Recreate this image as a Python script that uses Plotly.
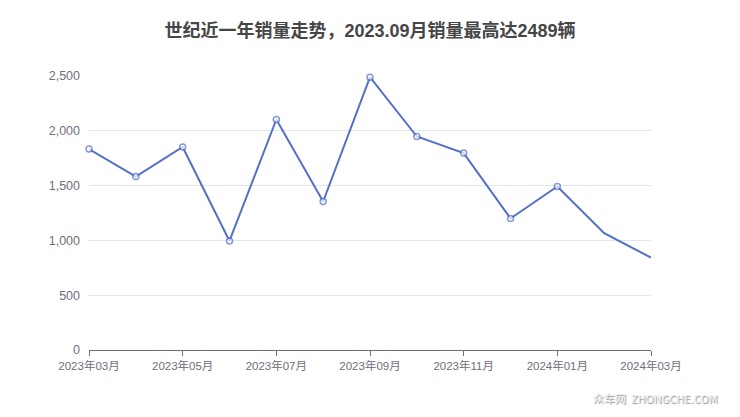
import plotly.graph_objects as go

months = ["2023年03月", "2023年04月", "2023年05月", "2023年06月", "2023年07月", "2023年08月",
          "2023年09月", "2023年10月", "2023年11月", "2023年12月", "2024年01月", "2024年02月", "2024年03月"]
sales = [1834, 1583, 1852, 995, 2103, 1355, 2489, 1948, 1797, 1200, 1492, 1066, 843]
tick_labels = ["2023年03月", "2023年05月", "2023年07月", "2023年09月", "2023年11月", "2024年01月", "2024年03月"]
y_ticks = [0, 500, 1000, 1500, 2000, 2500]

marker_sizes = [6] * (len(sales) - 2) + [0, 0]

# page body has an 8px margin, so shift the figure's inner layout back by 8px
OFF = 8
W, H = 740, 417
L, R, T, B = 89, 651, 76, 350

fig = go.Figure()
fig.add_trace(go.Scatter(
    x=months, y=sales, mode="lines+markers", cliponaxis=False,
    line=dict(color="#5470c6", width=2),
    marker=dict(symbol="circle", size=marker_sizes, color="white",
                line=dict(color="#5470c6", width=1.5)),
    hoverinfo="x+y", showlegend=False,
))

fig.update_layout(
    width=W, height=H,
    margin=dict(l=L - OFF, r=W - R + OFF, t=T - OFF, b=H - B + OFF, autoexpand=False),
    paper_bgcolor="white", plot_bgcolor="white",
    font=dict(family="Liberation Sans, Noto Sans CJK SC, sans-serif", color="#6e7079", size=11),
    title=dict(text="<b>世纪近一年销量走势，2023.09月销量最高达2489辆</b>",
               x=(370 - OFF) / W, xanchor="center", y=1 - (31 - OFF) / H, yanchor="middle",
               font=dict(family="Liberation Sans, Noto Sans CJK SC, sans-serif", size=18, color="#464646")),
    xaxis=dict(type="category", categoryorder="array", categoryarray=months,
               range=[0, len(months) - 1],
               tickvals=tick_labels, ticktext=tick_labels,
               showgrid=False, showline=True, linecolor="#6e7079", linewidth=1,
               ticks="outside", ticklen=5, tickcolor="#6e7079",
               tickfont=dict(size=11.5, color="#6e7079"), zeroline=False),
    yaxis=dict(range=[0, 2500], tickvals=y_ticks, tickformat=",d",
               showgrid=True, gridcolor="#e0e6f1", gridwidth=1,
               showline=False, zeroline=False, ticks="", ticklabelstandoff=8,
               tickfont=dict(size=12.5, color="#6e7079")),
    annotations=[dict(text="众车网  ZHONGCHE.COM", xref="paper", yref="paper",
                      x=(720 - L) / (R - L), y=-(398 - B) / (B - T),
                      xanchor="right", yanchor="middle", showarrow=False,
                      font=dict(size=11, color="#eeeeee", family="Noto Sans CJK SC, sans-serif",
                                shadow="1px 1px 1px #8a8a8a"))],
)

fig.write_html("out.html")
